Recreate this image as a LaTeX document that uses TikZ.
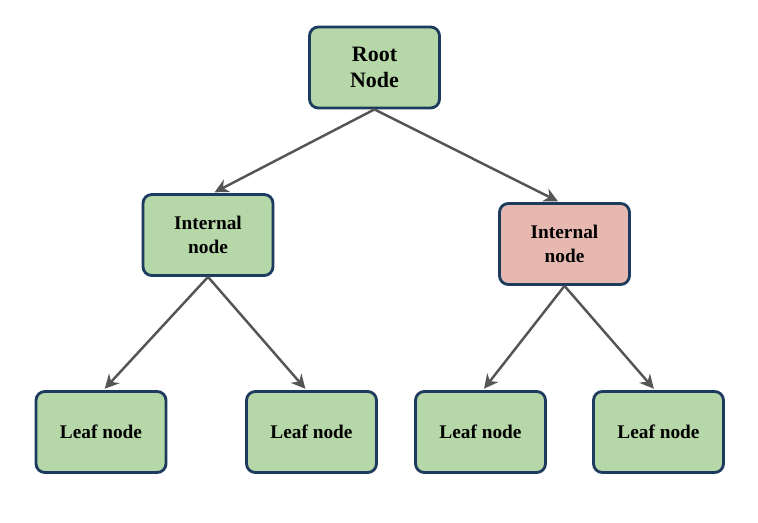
\documentclass[tikz,border=0pt]{standalone}
\usepackage{fontspec}
\setmainfont{Liberation Serif}
\usetikzlibrary{arrows.meta}
\definecolor{boxgreen}{HTML}{B6D7A8}
\definecolor{boxred}{HTML}{E6B8AF}
\definecolor{boxline}{HTML}{1C3B5E}
\definecolor{arrowgray}{HTML}{555555}
\begin{document}
\begin{tikzpicture}[x=0.02cm,y=-0.02cm,
  box/.style={draw=boxline, line width=1.6pt, rounded corners=5pt, fill=boxgreen,
    minimum width=2.6cm, minimum height=1.62cm, align=center, font=\bfseries\fontsize{11}{14}\selectfont},
  link/.style={draw=arrowgray, line width=1.4pt, -{Stealth[length=8pt,width=8pt]}, shorten >=1pt}]
  \useasboundingbox (0,0) rectangle (758,523);
  \node[box, font=\bfseries\fontsize{12.5}{15}\selectfont] (root) at (374.5,67.5) {Root\\Node};
  \node[box] (intL) at (208,235) {Internal\\node};
  \node[box, fill=boxred] (intR) at (564.5,244) {Internal\\node};
  \node[box] (leafA) at (101,432) {Leaf node};
  \node[box] (leafB) at (311.5,432) {Leaf node};
  \node[box] (leafC) at (480.5,432) {Leaf node};
  \node[box] (leafD) at (658.5,432) {Leaf node};
  \draw[link] (root.south) -- ([xshift=0.1cm]intL.north);
  \draw[link] (root.south) -- ([xshift=-0.1cm]intR.north);
  \draw[link] (intL.south) -- ([xshift=0.05cm]leafA.north);
  \draw[link] (intL.south) -- ([xshift=-0.1cm]leafB.north);
  \draw[link] (intR.south) -- ([xshift=0.05cm]leafC.north);
  \draw[link] (intR.south) -- ([xshift=-0.07cm]leafD.north);
\end{tikzpicture}
\end{document}
